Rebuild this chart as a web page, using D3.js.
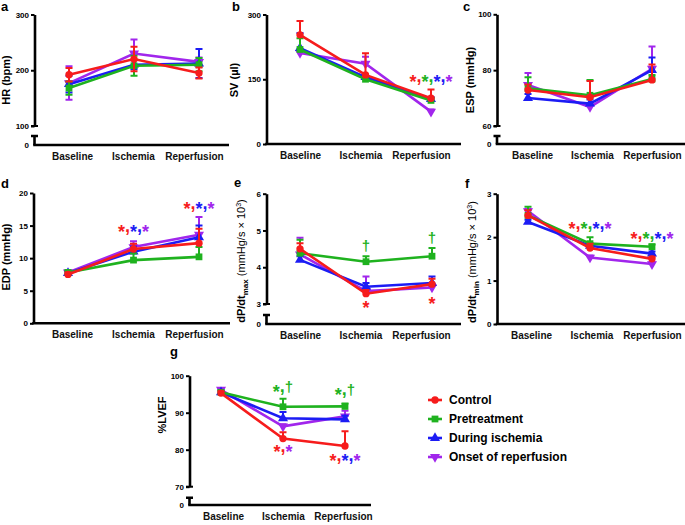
<!DOCTYPE html>
<html>
<head>
<meta charset="utf-8">
<script src="https://cdn.jsdelivr.net/npm/d3@7"></script>
<style>
    body { margin: 0; background: #fff; }
    svg text { font-family: "Liberation Sans", Arial, Helvetica, sans-serif; }
</style>
</head>
<body>
<div id="main"></div>
<script>
var categories = ["Baseline", "Ischemia", "Reperfusion"];
var groups = ["Control", "Pretreatment", "During ischemia", "Onset of reperfusion"];

// mean and SEM, one row per group (same order as groups)
var hrMean = [[192, 220, 195], [168, 208, 210], [175, 210, 212], [177, 230, 215]];
var hrErr = [[12, 22, 10], [12, 18, 12], [15, 8, 26], [30, 25, 8]];
var svMean = [[253, 160, 106], [219, 150, 101], [222, 155, 104], [211, 186, 75]];
var svErr = [[32, 50, 20], [26, 5, 5], [35, 5, 5], [5, 16, 5]];
var espMean = [[72.9, 70.3, 76.5], [73.5, 71, 76.8], [70, 68, 80], [74.7, 66.8, 80.5]];
var espErr = [[2, 5.8, 5.5], [4, 5.5, 1.5], [1.5, 1.5, 4.5], [4.3, 1, 8]];
var edpMean = [[7.5, 11.4, 12.3], [7.8, 9.7, 10.2], [7.7, 11.0, 13.2], [7.8, 11.7, 13.6]];
var edpErr = [[0.3, 0.8, 2.2], [0.3, 1.0, 1.5], [0.3, 0.8, 1.8], [0.3, 0.9, 2.7]];
var maxMean = [[4.5, 3.28, 3.54], [4.38, 4.15, 4.3], [4.2, 3.47, 3.57], [4.35, 3.35, 3.45]];
var maxErr = [[0.15, 0.1, 0.15], [0.37, 0.15, 0.22], [0.1, 0.1, 0.18], [0.45, 0.4, 0.1]];
var minMean = [[2.5, 1.75, 1.5], [2.5, 1.85, 1.78], [2.35, 1.8, 1.62], [2.6, 1.53, 1.38]];
var minErr = [[0.12, 0.1, 0.05], [0.2, 0.15, 0.05], [0.05, 0.05, 0.05], [0.05, 0.05, 0.05]];
var lvefMean = [[95.3, 83, 81], [95.5, 91.6, 91.7], [95.5, 88.5, 88.2], [96.2, 86.3, 89]];
var lvefErr = [[0.5, 1.7, 4], [0.5, 2.2, 0.8], [0.5, 1.7, 1.0], [0.5, 0.6, 1.5]];

// tick labels
var hrTicks = [100, 200, 300];
var svTicks = [0, 150, 300];
var espTicks = [60, 80, 100];
var edpTicks = [0, 5, 10, 15, 20];
var maxTicks = [3, 4, 5, 6];
var minTicks = [0, 1, 2, 3];
var lvefTicks = [70, 80, 90, 100];

// significance marks: category, level (value units), symbols, group of each symbol
var svSig = [{cat: "Reperfusion", at: 143, sym: ["*", "*", "*", "*"], grp: [0, 1, 2, 3]}];
var edpSig = [{cat: "Ischemia", at: 14.05, sym: ["*", "*", "*"], grp: [0, 2, 3]},
    {cat: "Reperfusion", at: 17.5, sym: ["*", "*", "*"], grp: [0, 2, 3]}];
var maxSig = [{cat: "Ischemia", at: 4.44, sym: ["†"], grp: [1]},
    {cat: "Reperfusion", at: 4.66, sym: ["†"], grp: [1]},
    {cat: "Ischemia", at: 2.9, sym: ["*"], grp: [0]},
    {cat: "Reperfusion", at: 3.0, sym: ["*"], grp: [0]}];
var minSig = [{cat: "Ischemia", at: 2.19, sym: ["*", "*", "*", "*"], grp: [0, 1, 2, 3]},
    {cat: "Reperfusion", at: 1.96, sym: ["*", "*", "*", "*"], grp: [0, 1, 2, 3]}];
var lvefSig = [{cat: "Ischemia", at: 95.6, sym: ["*", "†"], grp: [1, 1]},
    {cat: "Reperfusion", at: 94.8, sym: ["*", "†"], grp: [1, 1]},
    {cat: "Ischemia", at: 79.4, sym: ["*", "*"], grp: [0, 3]},
    {cat: "Reperfusion", at: 76.9, sym: ["*", "*", "*"], grp: [0, 2, 3]}];

var colors = ["#f61c1c", "#1fb21f", "#1c1cf4", "#a126ec"];
var symbols = [d3.symbolCircle, d3.symbolSquare, d3.symbolTriangle, d3.symbolTriangle];
var symRotate = [0, 0, 0, 180];
var symSize = [42, 46, 44, 44];

var svg = d3.select('#main').append('svg').attr('width', 685).attr('height', 525);

function drawMarker(sel, gi) {
    sel.attr('d', d3.symbol().type(symbols[gi]).size(symSize[gi])())
        .attr('fill', colors[gi]);
}

const panel = function (args) {
    if (!(this instanceof panel)) {
        return new panel(args);
    }
    var list = Object.keys(args || {});
    for (var ix = 0; ix < list.length; ix++) {
        this[list[ix]] = args[list[ix]];
    }
    this.initProperty();
    this.drawAxis();
    this.drawSeries();
    this.drawSig();
    this.drawText();
};

panel.prototype.initProperty = function () {
    this.g = svg.append('g');
    this.xScale = d3.scalePoint().domain(categories).range(this.px);
    this.xLabel = d3.scalePoint().domain(categories).range(this.lx);
    this.yScale = d3.scaleLinear()
        .domain([this.ticks[0], this.ticks[this.ticks.length - 1]])
        .range([this.yLow, this.yTop]);
};

panel.prototype.drawAxis = function () {
    var g = this.g;
    var yAxis = d3.axisLeft(this.yScale).tickValues(this.ticks)
        .tickSize(3.5).tickSizeOuter(0).tickPadding(2).tickFormat(d3.format('d'));
    var ay = g.append('g').attr('transform', 'translate(' + this.x0 + ',0)').call(yAxis);
    ay.select('.domain').attr('stroke', '#000').attr('stroke-width', 2.6);
    ay.selectAll('.tick line').attr('stroke', '#000').attr('stroke-width', 2);
    ay.selectAll('.tick text').attr('font-size', 8).attr('font-weight', 'bold').attr('fill', '#000');

    if (this.brk) {
        // broken axis: end tick on the upper part, a short stub down to zero
        g.append('line').attr('x1', this.x0 - 3.5).attr('x2', this.x0 + 3.5)
            .attr('y1', this.yLow).attr('y2', this.yLow)
            .attr('stroke', '#000').attr('stroke-width', 2);
        g.append('path')
            .attr('d', 'M' + (this.x0 - 3.5) + ',' + this.stubTop + 'H' + (this.x0 + 3.5) +
                'M' + this.x0 + ',' + this.stubTop + 'V' + this.axisY)
            .attr('fill', 'none').attr('stroke', '#000').attr('stroke-width', 2.6);
        g.append('text').attr('x', this.x0 - 5.5).attr('y', this.axisY).attr('dy', '0.32em')
            .attr('text-anchor', 'end').attr('font-size', 8).attr('font-weight', 'bold')
            .text('0');
    }

    g.append('line').attr('x1', this.x0 - 1.3).attr('x2', this.x1)
        .attr('y1', this.axisY).attr('y2', this.axisY)
        .attr('stroke', '#000').attr('stroke-width', 2.6);

    var xAxis = d3.axisBottom(this.xLabel).tickSize(0).tickPadding(8);
    var ax = g.append('g').attr('transform', 'translate(0,' + this.axisY + ')').call(xAxis);
    ax.select('.domain').remove();
    ax.selectAll('.tick text').attr('font-size', 10).attr('font-weight', 'bold').attr('fill', '#111');
};

panel.prototype.drawSeries = function () {
    const that = this;
    var order = [3, 2, 1, 0];
    order.forEach(function (gi) {
        var pts = categories.map(function (c, i) {
            return {c: c, m: that.mean[gi][i], e: that.err[gi][i]};
        });
        var sg = that.g.append('g');

        sg.selectAll('path.err').data(pts).enter().append('path')
            .attr('class', 'err')
            .attr('fill', 'none').attr('stroke', colors[gi]).attr('stroke-width', 2)
            .attr('d', function (d) {
                var x = that.xScale(d.c), y0 = that.yScale(d.m), y1 = that.yScale(d.m + d.e);
                var p = 'M' + x + ',' + y0 + 'V' + y1 + 'M' + (x - 3.5) + ',' + y1 + 'H' + (x + 3.5);
                if (that.both) {
                    var y2 = that.yScale(d.m - d.e);
                    p += 'M' + x + ',' + y0 + 'V' + y2 + 'M' + (x - 3.5) + ',' + y2 + 'H' + (x + 3.5);
                }
                return p;
            });

        sg.append('path').datum(pts)
            .attr('fill', 'none').attr('stroke', colors[gi]).attr('stroke-width', 2.6)
            .attr('d', d3.line()
                .x(function (d) { return that.xScale(d.c); })
                .y(function (d) { return that.yScale(d.m); }));

        sg.selectAll('path.mk').data(pts).enter().append('path')
            .attr('class', 'mk')
            .attr('transform', function (d) {
                return 'translate(' + that.xScale(d.c) + ',' + that.yScale(d.m) + ') rotate(' + symRotate[gi] + ')';
            })
            .call(drawMarker, gi);
    });
};

panel.prototype.drawSig = function () {
    const that = this;
    (this.sig || []).forEach(function (s) {
        var t = that.g.append('text')
            .attr('x', that.xScale(s.cat)).attr('y', that.yScale(s.at))
            .attr('text-anchor', 'middle').attr('font-weight', 'bold').attr('font-size', 18);
        // asterisks sit a bit lower than the font puts them; every other piece stays on the baseline
        var low = false;
        s.sym.forEach(function (sym, i) {
            var col = colors[s.grp[i]];
            var sp = t.append('tspan').attr('fill', col).text(sym);
            if (sym === '*') {
                if (!low) sp.attr('dy', '0.33em');
                low = true;
            } else {
                sp.attr('font-size', 15);
                if (low) sp.attr('dy', '-0.4em');
                low = false;
            }
            if (i < s.sym.length - 1) {
                var cm = t.append('tspan').attr('fill', col).text(',');
                if (low) cm.attr('dy', '-0.33em');
                low = false;
            }
        });
    });
};

panel.prototype.drawText = function () {
    this.g.append('text').attr('x', this.letter[0]).attr('y', this.letter[1])
        .attr('font-size', 13).attr('font-weight', 'bold').text(this.id);

    var t = this.g.append('text')
        .attr('transform', 'translate(' + this.ylab[0] + ',' + this.ylab[1] + ') rotate(-90)')
        .attr('text-anchor', 'middle').attr('font-size', 11).attr('font-weight', 'bold');
    if (this.sub) {
        t.append('tspan').text('dP/dt');
        t.append('tspan').attr('font-size', 8).attr('dy', 3).text(this.sub);
        t.append('tspan').attr('dy', -3).attr('font-weight', 'normal').text(' (mmHg/s \u00d7 10');
        t.append('tspan').attr('font-size', 7).attr('dy', -4).attr('font-weight', 'normal').text('3');
        t.append('tspan').attr('dy', 4).attr('font-weight', 'normal').text(')');
    } else {
        t.text(this.title);
    }
};

panel({id: 'a', mean: hrMean, err: hrErr, ticks: hrTicks, both: true, brk: true, title: 'HR (bpm)',
    x0: 34.5, x1: 229, px: [69, 199], lx: [72, 194], yTop: 14.5, yLow: 126, stubTop: 136, axisY: 145,
    letter: [1, 11], ylab: [10, 80]});
panel({id: 'b', mean: svMean, err: svErr, ticks: svTicks, sig: svSig, title: 'SV (\u00b5l)',
    x0: 266.5, x1: 461, px: [300, 431], lx: [300, 421], yTop: 14.5, yLow: 144, axisY: 144,
    letter: [232, 11], ylab: [238, 80]});
panel({id: 'c', mean: espMean, err: espErr, ticks: espTicks, brk: true, title: 'ESP (mmHg)',
    x0: 497, x1: 685, px: [528, 652], lx: [532, 652], yTop: 14.3, yLow: 126, stubTop: 136, axisY: 144,
    letter: [463, 11], ylab: [474, 80]});
panel({id: 'd', mean: edpMean, err: edpErr, ticks: edpTicks, sig: edpSig, title: 'EDP (mmHg)',
    x0: 33.5, x1: 230, px: [68, 199], lx: [72, 194], yTop: 193, yLow: 323.3, axisY: 323.3,
    letter: [1, 188], ylab: [10, 257]});
panel({id: 'e', mean: maxMean, err: maxErr, ticks: maxTicks, sig: maxSig, brk: true, sub: 'max',
    x0: 266.5, x1: 461, px: [300, 432], lx: [300, 421], yTop: 193.7, yLow: 304, stubTop: 315, axisY: 324,
    letter: [234, 187], ylab: [245, 261]});
panel({id: 'f', mean: minMean, err: minErr, ticks: minTicks, sig: minSig, sub: 'min',
    x0: 497, x1: 685, px: [528, 652], lx: [531, 652], yTop: 193.7, yLow: 324, axisY: 324,
    letter: [465, 188], ylab: [476, 262]});
panel({id: 'g', mean: lvefMean, err: lvefErr, ticks: lvefTicks, sig: lvefSig, brk: true, title: '%LVEF',
    x0: 189.5, x1: 371, px: [221, 345], lx: [223, 343], yTop: 375.7, yLow: 486.7, stubTop: 497.7, axisY: 505,
    letter: [170, 356], ylab: [166, 415]});

// legend
var legend = svg.append('g').attr('transform', 'translate(428,0)');
var legendY = d3.scalePoint().domain(groups).range([400, 457]);
groups.forEach(function (name, gi) {
    var y = legendY(name);
    legend.append('line').attr('x1', 0).attr('x2', 14).attr('y1', y).attr('y2', y)
        .attr('stroke', colors[gi]).attr('stroke-width', 2.6);
    legend.append('path').attr('transform', 'translate(7,' + y + ') rotate(' + symRotate[gi] + ')')
        .call(drawMarker, gi);
    legend.append('text').attr('x', 21).attr('y', y).attr('dy', '0.36em')
        .attr('font-size', 12).attr('font-weight', 'bold').attr('fill', '#000').text(name);
});
</script>
</body>
</html>
